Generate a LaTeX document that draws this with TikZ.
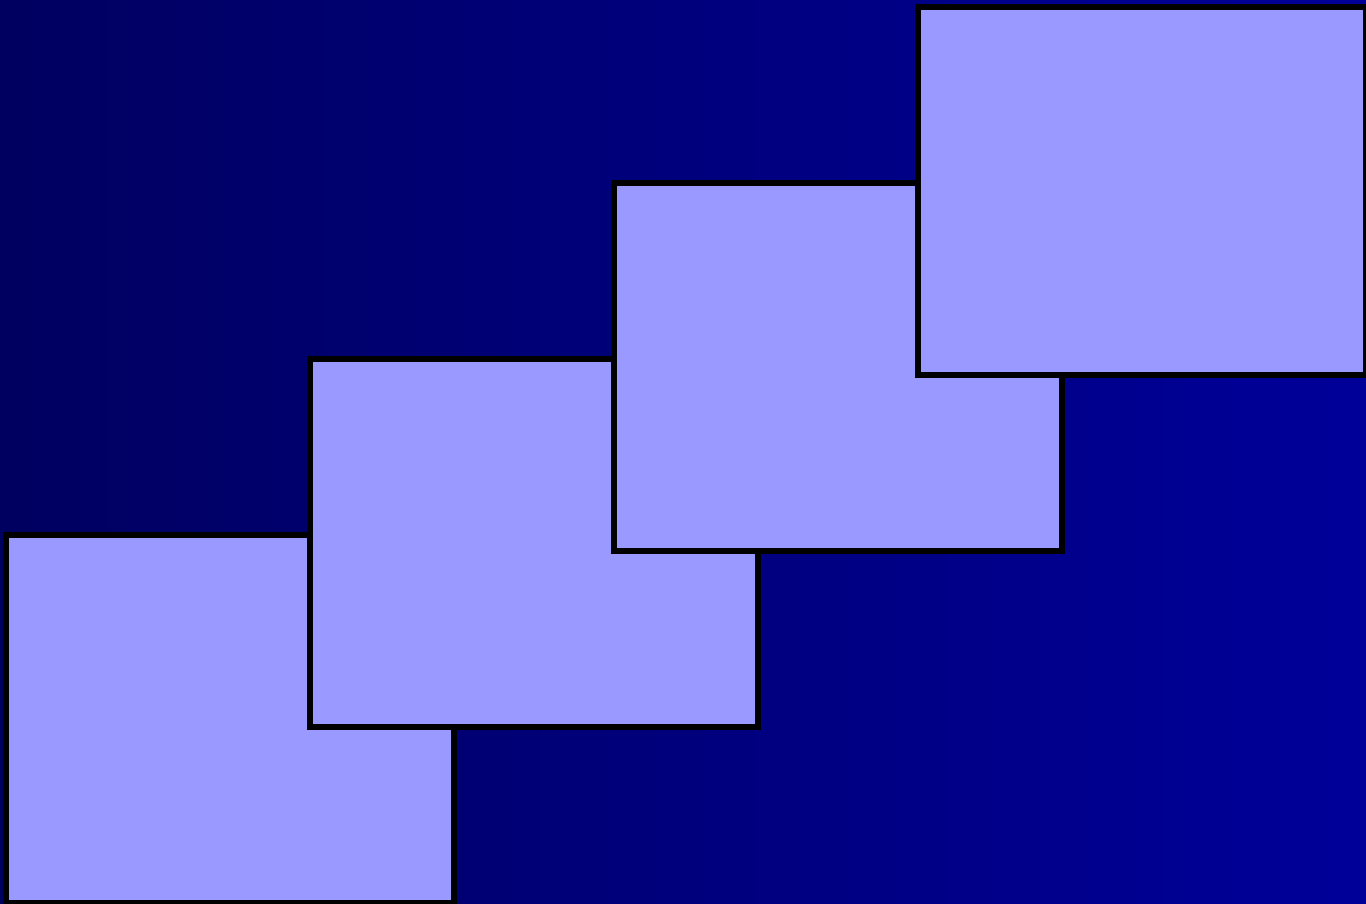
\documentclass[tikz,border=0pt]{standalone}
\usepackage{tikz}
\usetikzlibrary{positioning}
\definecolor{fondgauche}{RGB}{0,0,96}
\definecolor{fonddroite}{RGB}{0,0,153}
\definecolor{panneau}{RGB}{153,153,255}

\begin{document}
\begin{tikzpicture}[x=0.75pt, y=-0.75pt]

    % Cadre et fond en dégradé (sombre à gauche, plus clair à droite)
    \useasboundingbox (0,0) rectangle (1366,903);
    \clip (0,0) rectangle (1366,903);
    \shade[left color=fondgauche, right color=fonddroite]
      (0,0) rectangle (1366,903);

    % Panneaux en escalier, chacun posé sur le précédent
    \foreach \x/\y in {6/535, 310/359, 614/183, 918/7} {
      \filldraw[fill=panneau, draw=black, line width=4.3pt]
        (\x,\y) rectangle ++(448,368);
    }

  \end{tikzpicture}
\end{document}
